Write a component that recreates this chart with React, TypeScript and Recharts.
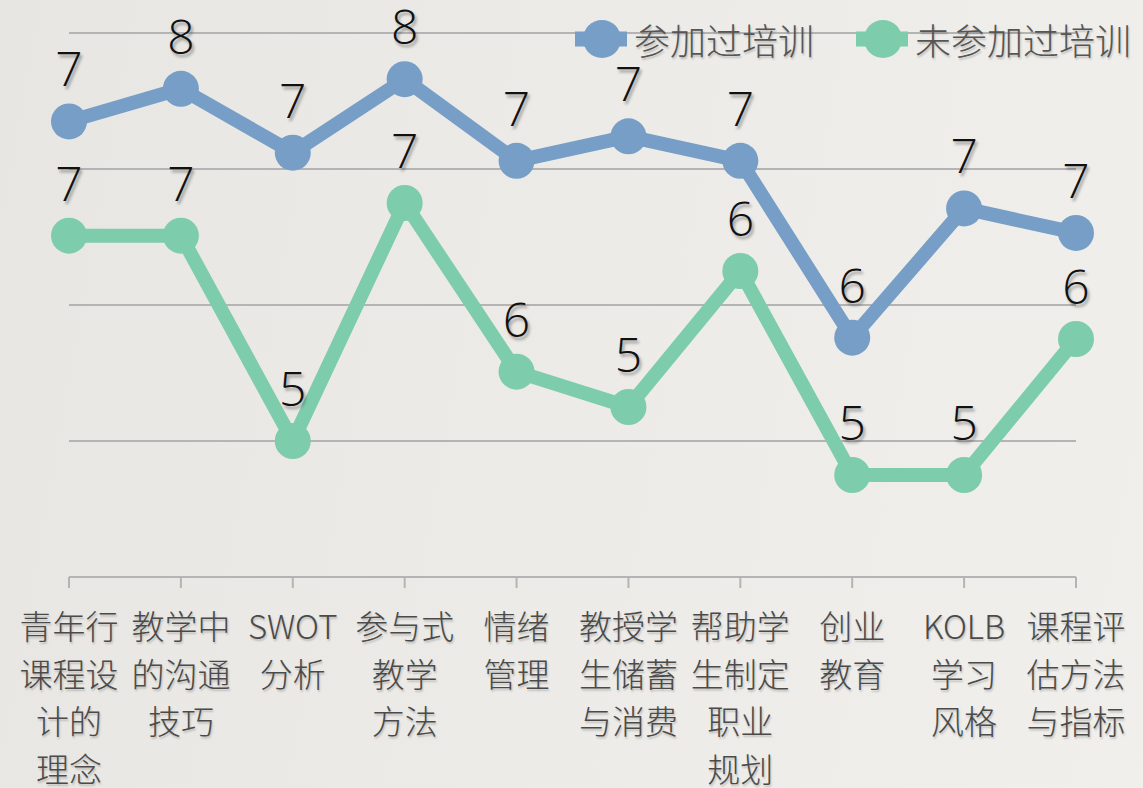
import { LineChart, Line, XAxis, YAxis, CartesianGrid, LabelList } from 'recharts'

const categories = [
  '青年行\n课程设\n计的\n理念',
  '教学中\n的沟通\n技巧',
  'SWOT\n分析',
  '参与式\n教学\n方法',
  '情绪\n管理',
  '教授学\n生储蓄\n与消费',
  '帮助学\n生制定\n职业\n规划',
  '创业\n教育',
  'KOLB\n学习\n风格',
  '课程评\n估方法\n与指标',
]
const trained = [7.35, 7.59, 7.12, 7.66, 7.06, 7.24, 7.06, 5.76, 6.71, 6.53]
const untrained = [6.51, 6.51, 5.0, 6.75, 5.51, 5.25, 6.25, 4.75, 4.75, 5.75]
const yTicks = [4, 5, 6, 7, 8]

const SERIES = [
  { key: 'trained', name: '参加过培训', color: '#769ec7' },
  { key: 'untrained', name: '未参加过培训', color: '#7dccab' },
]

const data = categories.map((name, i) => ({
  name,
  trained: trained[i],
  untrained: untrained[i],
}))

const CJK = '"Noto Sans CJK SC", "Noto Sans", sans-serif'
const shadow = '2px 3px 3px rgba(0,0,0,0.35)'

// 多行类目标签
const CategoryTick = (props: any) => {
  const { x, y, payload } = props
  const lines = String(payload.value).split('\n')
  return (
    <text
      x={x}
      y={y}
      textAnchor="middle"
      fill="#4a4a4a"
      fontSize={33}
      fontFamily={CJK}
      fontWeight={300}
      style={{ textShadow: '1px 2px 2px rgba(0,0,0,0.2)' }}
    >
      {lines.map((line, i) => (
        <tspan key={i} x={x} y={y + 51 + i * 47.5}>
          {line}
        </tspan>
      ))}
    </text>
  )
}

// 数据标签：四舍五入显示
const ValueLabel = (props: any) => {
  const { x, y, value } = props
  return (
    <text
      x={x}
      y={y - 35}
      textAnchor="middle"
      fill="#111"
      fontSize={48}
      fontFamily='"Open Sans", sans-serif'
      fontWeight={300}
      style={{ textShadow: shadow }}
    >
      {Math.round(value)}
    </text>
  )
}

const LegendBox = () => (
  <div
    style={{
      position: 'absolute',
      left: 575,
      top: 19,
      display: 'flex',
      alignItems: 'center',
      fontFamily: CJK,
      fontWeight: 300,
      fontSize: 36,
      color: '#555',
    }}
  >
    {SERIES.map((s, i) => (
      <div
        key={s.key}
        style={{ display: 'flex', alignItems: 'center', marginLeft: i === 0 ? 0 : 42 }}
      >
        <svg width={52} height={40}>
          <line x1={0} x2={52} y1={20} y2={20} stroke={s.color} strokeWidth={15} />
          <circle cx={27} cy={20} r={19} fill={s.color} />
        </svg>
        <span style={{ marginLeft: 7, lineHeight: '40px', textShadow: '1px 2px 2px rgba(0,0,0,0.2)' }}>
          {s.name}
        </span>
      </div>
    ))}
  </div>
)

export default function App() {
  return (
    <div
      style={{
        position: 'fixed',
        left: 0,
        top: 0,
        width: 1143,
        height: 788,
        background: 'linear-gradient(100deg, #e8e6e2 0%, #ecebe7 50%, #f0efeb 100%)',
      }}
    >
      <LineChart
        width={1143}
        height={788}
        data={data}
        margin={{ top: 33, right: 67, left: 69, bottom: 31 }}
      >
        <CartesianGrid vertical={false} stroke="#b4b4b4" strokeWidth={2} />
        <YAxis hide domain={[4, 8]} ticks={yTicks} />
        <XAxis
          dataKey="name"
          height={180}
          interval={0}
          axisLine={{ stroke: '#b4b4b4', strokeWidth: 2 }}
          tickLine={{ stroke: '#b4b4b4', strokeWidth: 2 }}
          tickSize={11}
          tickMargin={0}
          tick={<CategoryTick />}
        />
        {SERIES.map(s => (
          <Line
            key={s.key}
            dataKey={s.key}
            name={s.name}
            stroke={s.color}
            strokeWidth={14}
            strokeLinejoin="round"
            dot={{ r: 18, fill: s.color, stroke: 'none', strokeWidth: 0 }}
            activeDot={false}
            isAnimationActive={false}
          >
            <LabelList dataKey={s.key} content={<ValueLabel />} />
          </Line>
        ))}
      </LineChart>
      <LegendBox />
    </div>
  )
}
